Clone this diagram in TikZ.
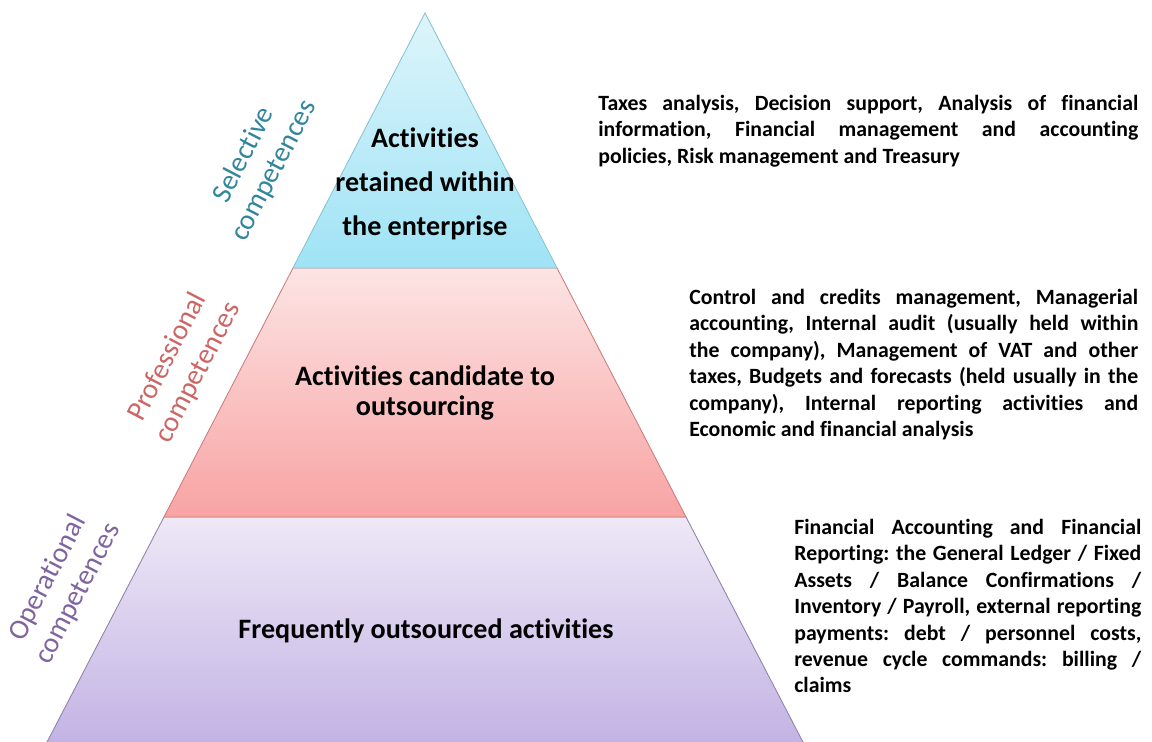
\documentclass[tikz,border=0pt]{standalone}
\usepackage{fontspec}
\setmainfont{Carlito}[Ligatures=NoCommon]
\usetikzlibrary{positioning}

\definecolor{selcol}{HTML}{31859C}
\definecolor{procol}{HTML}{CD6565}
\definecolor{opcol}{HTML}{7F64A0}

\hyphenpenalty=10000
\frenchspacing

\begin{document}
\begin{tikzpicture}[x=0.02cm, y=-0.02cm,
  band/.style={font=\bfseries\fontsize{16}{25}\selectfont, align=center},
  level/.style={font=\fontsize{16.2}{19.3}\selectfont, align=center, rotate=62.6},
  info/.style={font=\bfseries\fontsize{12.4}{15}\selectfont,
               align=justify, anchor=north west, inner sep=0pt}]
  \useasboundingbox (0,0) rectangle (1152,742);

  % pyramid corners
  \coordinate (apex) at (425,13);
  \coordinate (t1) at (293,268);  \coordinate (t2) at (557,268);
  \coordinate (m1) at (164,517);  \coordinate (m2) at (686,517);
  \coordinate (b1) at (45,746);   \coordinate (b2) at (805,746);

  % the three layers
  \fill[top color={rgb,255:red,238;green,232;blue,246},
        bottom color={rgb,255:red,194;green,178;blue,228},
        draw={rgb,255:red,150;green,135;blue,175}, line width=0.5pt]
    (m1) -- (m2) -- (b2) -- (b1) -- cycle;
  \fill[top color={rgb,255:red,253;green,228;blue,228},
        bottom color={rgb,255:red,248;green,163;blue,163},
        draw={rgb,255:red,210;green,130;blue,130}, line width=0.5pt]
    (t1) -- (t2) -- (m2) -- (m1) -- cycle;
  \fill[top color={rgb,255:red,222;green,245;blue,251},
        bottom color={rgb,255:red,158;green,227;blue,245},
        draw={rgb,255:red,140;green,200;blue,215}, line width=0.5pt]
    (apex) -- (t2) -- (t1) -- cycle;

  % texts inside the layers
  \node[band] (retained) at (425,184) {Activities\\retained within\\the enterprise};
  \node[band, font=\bfseries\fontsize{16}{17}\selectfont] (candidate) at (425,393)
    {Activities candidate to\\outsourcing};
  \node[band] (frequent) at (426,631) {Frequently outsourced activities};

  % competence levels along the left edge
  \node[level, text=selcol] (selective) at (259,163) {Selective\\competences};
  \node[level, text=procol] (professional) at (183,365) {Professional\\competences};
  \node[level, text=opcol] (operational) at (63,586) {Operational\\competences};

  % activity lists
  \node[info, text width=10.8cm] (toplist) at (598,95)
    {Taxes analysis, Decision support, Analysis of financial\linebreak
     information, Financial management and accounting\linebreak
     policies, Risk management and Treasury};
  \node[info, text width=8.98cm] (midlist) at (689,289)
    {Control and credits management, Managerial\linebreak
     accounting, Internal audit (usually held within\linebreak
     the company), Management of VAT and other\linebreak
     taxes, Budgets and forecasts (held usually in the\linebreak
     company), Internal reporting activities and\linebreak
     Economic and financial analysis};
  \node[info, text width=6.94cm] (botlist) at (794,519)
    {Financial Accounting and Financial\linebreak
     Reporting: the General Ledger / Fixed\linebreak
     Assets / Balance Confirmations /\linebreak
     Inventory / Payroll, external reporting\linebreak
     payments: debt / personnel costs,\linebreak
     revenue cycle commands: billing /\linebreak
     claims};
\end{tikzpicture}
\end{document}
